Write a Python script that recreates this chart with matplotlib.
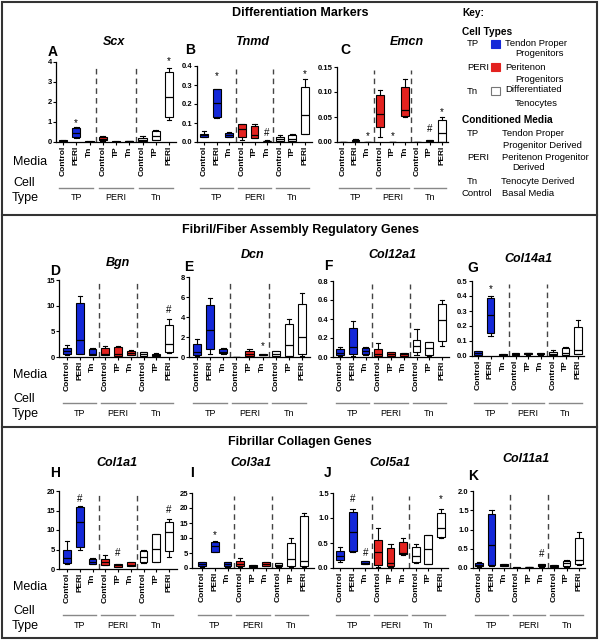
import numpy as np
import matplotlib.pyplot as plt
from matplotlib.patches import Rectangle
from matplotlib.lines import Line2D
from matplotlib import transforms

plt.rcParams['font.family'] = ['Liberation Sans', 'DejaVu Sans']

# groups on the x axis of every panel
media_labels = ["Control", "PERI", "Tn", "Control", "TP", "Tn", "Control", "TP", "PERI"]
cell_types = ["TP", "PERI", "Tn"]

# rows: whisker low, Q1, median, Q3, whisker high (9 groups each)
scx = np.array([
    [0.02, 0.22, 0.00, 0.05, 0.00, 0.01, 0.02, 0.08, 1.10],
    [0.03, 0.25, 0.01, 0.08, 0.01, 0.02, 0.05, 0.10, 1.23],
    [0.06, 0.45, 0.02, 0.15, 0.02, 0.04, 0.12, 0.30, 2.23],
    [0.10, 0.70, 0.03, 0.25, 0.03, 0.06, 0.20, 0.55, 3.50],
    [0.12, 0.75, 0.04, 0.32, 0.04, 0.07, 0.28, 0.62, 3.70]])
tnmd = np.array([
    [0.025, 0.125, 0.024, 0.012, 0.020, 0.002, 0.004, 0.004, 0.040],
    [0.028, 0.129, 0.026, 0.026, 0.023, 0.003, 0.005, 0.005, 0.044],
    [0.035, 0.203, 0.038, 0.070, 0.035, 0.005, 0.015, 0.018, 0.140],
    [0.044, 0.277, 0.048, 0.093, 0.083, 0.007, 0.026, 0.035, 0.290],
    [0.056, 0.277, 0.052, 0.097, 0.097, 0.008, 0.035, 0.040, 0.330]])
emcn = np.array([
    [0.0, 0.002, 0.0, 0.011, 0.0, 0.050, 0.0, 0.001, 0.000],
    [0.0003, 0.003, 0.0001, 0.030, 0.0001, 0.052, 0.0002, 0.002, 0.001],
    [0.0005, 0.004, 0.0002, 0.057, 0.0002, 0.064, 0.0004, 0.003, 0.018],
    [0.0008, 0.005, 0.0003, 0.094, 0.0003, 0.110, 0.0006, 0.004, 0.045],
    [0.001, 0.0055, 0.0004, 0.104, 0.0004, 0.126, 0.0008, 0.0045, 0.050]])
bgn = np.array([
    [0.45, 0.50, 0.30, 0.30, 0.20, 0.30, 0.10, 0.10, 0.7],
    [0.65, 0.65, 0.40, 0.45, 0.26, 0.40, 0.15, 0.15, 0.9],
    [1.10, 3.36, 0.60, 0.65, 0.65, 0.80, 0.50, 0.35, 2.6],
    [1.75, 10.5, 1.55, 1.75, 1.87, 1.23, 0.90, 0.60, 6.3],
    [2.40, 11.9, 1.75, 2.20, 2.20, 1.40, 1.00, 0.70, 7.4]])
dcn = np.array([
    [0.15, 0.33, 0.35, 0.00, 0.05, 0.18, 0.10, 0.10, 0.1],
    [0.23, 0.80, 0.40, 0.01, 0.07, 0.20, 0.13, 0.13, 0.3],
    [0.47, 2.73, 0.55, 0.02, 0.30, 0.25, 0.35, 1.17, 2.0],
    [1.33, 5.23, 0.80, 0.03, 0.63, 0.30, 0.57, 3.33, 5.3],
    [1.83, 5.90, 0.90, 0.04, 0.80, 0.32, 0.60, 3.83, 6.4]])
col12a1 = np.array([
    [0.010, 0.014, 0.025, 0.005, 0.008, 0.008, 0.025, 0.010, 0.115],
    [0.018, 0.035, 0.028, 0.007, 0.010, 0.010, 0.053, 0.018, 0.170],
    [0.042, 0.110, 0.063, 0.028, 0.030, 0.030, 0.120, 0.100, 0.390],
    [0.080, 0.310, 0.100, 0.080, 0.053, 0.042, 0.180, 0.158, 0.555],
    [0.105, 0.375, 0.105, 0.147, 0.055, 0.045, 0.300, 0.160, 0.600]])
col14a1 = np.array([
    [0.003, 0.135, 0.005, 0.006, 0.008, 0.008, 0.004, 0.004, 0.010],
    [0.004, 0.153, 0.006, 0.008, 0.010, 0.010, 0.005, 0.005, 0.015],
    [0.020, 0.275, 0.008, 0.014, 0.017, 0.015, 0.015, 0.020, 0.038],
    [0.033, 0.389, 0.010, 0.020, 0.021, 0.020, 0.027, 0.055, 0.190],
    [0.035, 0.400, 0.011, 0.022, 0.023, 0.021, 0.042, 0.060, 0.238]])
col1a1 = np.array([
    [1.35, 4.90, 1.30, 0.90, 0.45, 0.70, 1.5, 1.8, 3.2],
    [1.50, 5.76, 1.35, 1.00, 0.50, 0.76, 1.8, 1.8, 4.5],
    [2.80, 11.95, 1.70, 1.70, 0.93, 0.95, 3.0, 5.2, 9.6],
    [4.75, 15.8, 2.60, 2.54, 1.35, 1.70, 4.5, 9.0, 12.0],
    [7.20, 16.1, 2.90, 3.60, 1.40, 1.80, 4.8, 9.0, 12.8]])
col3a1 = np.array([
    [0.50, 5.3, 0.50, 0.30, 0.2, 0.7, 0.50, 0.50, 0.3],
    [0.55, 5.5, 0.55, 0.55, 0.2, 0.8, 0.55, 0.77, 0.8],
    [1.20, 7.2, 1.20, 1.30, 0.6, 1.3, 1.00, 3.00, 2.5],
    [1.90, 8.8, 1.90, 2.50, 1.0, 1.9, 1.65, 8.50, 17.3],
    [2.00, 9.0, 1.90, 3.50, 1.0, 2.0, 1.70, 10.1, 18.2]])
col5a1 = np.array([
    [0.120, 0.33, 0.085, 0.020, 0.020, 0.270, 0.100, 0.080, 0.60],
    [0.167, 0.35, 0.087, 0.053, 0.033, 0.287, 0.113, 0.080, 0.62],
    [0.247, 0.73, 0.110, 0.320, 0.100, 0.310, 0.233, 0.380, 0.80],
    [0.350, 1.13, 0.147, 0.570, 0.400, 0.520, 0.430, 0.667, 1.10],
    [0.430, 1.18, 0.150, 0.800, 0.490, 0.600, 0.480, 0.667, 1.18]])
col11a1 = np.array([
    [0.03, 0.05, 0.05, 0.005, 0.010, 0.03, 0.015, 0.03, 0.07],
    [0.04, 0.07, 0.06, 0.007, 0.015, 0.04, 0.020, 0.04, 0.10],
    [0.08, 0.60, 0.08, 0.010, 0.020, 0.07, 0.050, 0.12, 0.21],
    [0.13, 1.40, 0.10, 0.013, 0.025, 0.10, 0.070, 0.19, 0.77],
    [0.15, 1.50, 0.10, 0.015, 0.030, 0.11, 0.080, 0.20, 0.93]])

# significance marks: (group index, symbol, height)
scx_marks = [(1, '*', 0.95), (8, '*', 4.05)]
tnmd_marks = [(1, '*', 0.347), (5, '#', 0.048), (8, '*', 0.358)]
emcn_marks = [(2, '*', 0.011), (4, '*', 0.011), (7, '#', 0.027), (8, '*', 0.06)]
bgn_marks = [(8, '#', 9.2)]
dcn_marks = [(5, '*', 1.13)]
col12a1_marks = []
col14a1_marks = [(1, '*', 0.447)]
col1a1_marks = [(1, '#', 17.9), (4, '#', 4.07), (8, '#', 15.1)]
col3a1_marks = [(1, '*', 11.0)]
col5a1_marks = [(1, '#', 1.37), (2, '#', 0.3), (8, '*', 1.37)]
col11a1_marks = [(5, '#', 0.37)]

colors = ['#1428d8', '#e3221f', 'white']

W, H = 600, 642
def fx(x):
    return x / W
def fy(y):
    return 1 - y / H

fig = plt.figure(figsize=(6, 6.42), dpi=100)

# outer frame and section dividers
fig.add_artist(Rectangle((fx(2), fy(638)), fx(595), 636 / H, transform=fig.transFigure,
                         fill=False, ec='#333333', lw=1.5))
for yy in [215, 427]:
    fig.add_artist(Line2D([fx(2), fx(597)], [fy(yy), fy(yy)], transform=fig.transFigure,
                          color='#333333', lw=1.5))

# section headings
fig.text(fx(300), fy(13), "Differentiation Markers", ha='center', va='center', fontsize=9, weight='bold')
fig.text(fx(300), fy(230), "Fibril/Fiber Assembly Regulatory Genes", ha='center', va='center', fontsize=9, weight='bold')
fig.text(fx(300), fy(442), "Fibrillar Collagen Genes", ha='center', va='center', fontsize=9, weight='bold')

# row texts per section: media y, cell y, type y, line y
sections = [(162, 183, 198, 188), (375, 399, 414, 403), (587, 611, 626, 615)]
for media_y, cell_y, type_y, line_y in sections:
    fig.text(fx(13), fy(media_y), "Media", ha='left', va='center', fontsize=9)
    fig.text(fx(13), fy(cell_y), "Cell", ha='left', va='center', fontsize=9)
    fig.text(fx(12), fy(type_y), "Type", ha='left', va='center', fontsize=9)


def draw_panel(data, marks, letter, gene, xa, x0, x8, y0, yt, ymax, yticks, fmt,
               gene_xy, letter_xy, sec):
    sp = (x8 - x0) / 8
    pad = (x0 - xa) / sp
    right = x8 + (x0 - xa)
    ax = fig.add_axes([fx(xa), fy(y0), fx(right - xa), (y0 - yt) / H])
    stats = [dict(whislo=data[0][i], q1=data[1][i], med=data[2][i], q3=data[3][i],
                  whishi=data[4][i], fliers=[]) for i in range(9)]
    bp = ax.bxp(stats, positions=range(9), widths=0.62, patch_artist=True, showfliers=False,
                capwidths=0.35,
                boxprops=dict(lw=0.8, edgecolor='black'),
                medianprops=dict(color='black', lw=0.9),
                whiskerprops=dict(lw=0.8), capprops=dict(lw=0.8))
    for i, b in enumerate(bp['boxes']):
        b.set_facecolor(colors[i // 3])
    ax.vlines([2.5, 5.5], 0, ymax * 0.96, linestyles=(0, (4, 3)), colors='#444444', lw=1)
    ax.set_xlim(-pad, 8 + pad)
    ax.set_ylim(0, ymax)
    ax.set_xticks(range(9))
    ax.set_xticklabels(media_labels, rotation=90, fontsize=6, fontweight='bold')
    ax.set_yticks(yticks)
    ax.set_yticklabels([fmt.format(v) for v in yticks], fontsize=5.5, fontweight='bold')
    ax.tick_params(length=2, width=0.8, pad=1)
    for s in ['top', 'right']:
        ax.spines[s].set_visible(False)
    for s in ['left', 'bottom']:
        ax.spines[s].set_linewidth(0.9)
    for i, sym, y in marks:
        ax.text(i, y, sym, ha='center', va='center', fontsize=7, clip_on=False)
    # cell type brackets below the media labels
    media_y, cell_y, type_y, line_y = sections[sec]
    trans = transforms.blended_transform_factory(ax.transData, fig.transFigure)
    for g in range(3):
        ax.plot([3 * g - 0.3, 3 * g + 2.3], [fy(line_y)] * 2, transform=trans,
                color='#888888', lw=1, clip_on=False)
        ax.text(3 * g + 1, fy(type_y), cell_types[g], transform=trans, ha='center',
                va='center', fontsize=6.5)
    fig.text(fx(gene_xy[0]), fy(gene_xy[1]), gene, ha='center', va='center', fontsize=9,
             weight='bold', style='italic')
    fig.text(fx(letter_xy[0]), fy(letter_xy[1]), letter, ha='center', va='center',
             fontsize=10, weight='bold')
    return ax


draw_panel(scx, scx_marks, 'A', 'Scx', 56, 63, 169, 142, 62, 4, [0, 1, 2, 3, 4], '{:.0f}',
           (114, 42), (53, 52), 0)
draw_panel(tnmd, tnmd_marks, 'B', 'Tnmd', 197, 204, 305, 142, 66, 0.4,
           [0, 0.1, 0.2, 0.3, 0.4], '{:.1f}', (252, 42), (190, 50), 0)
draw_panel(emcn, emcn_marks, 'C', 'Emcn', 337, 343, 442, 142, 67, 0.15,
           [0, 0.05, 0.10, 0.15], '{:.2f}', (407, 42), (345, 50), 0)

draw_panel(bgn, bgn_marks, 'D', 'Bgn', 59, 67, 169, 357, 280, 15, [0, 5, 10, 15], '{:.0f}',
           (118, 263), (55, 271), 1)
draw_panel(dcn, dcn_marks, 'E', 'Dcn', 189, 197, 302, 357, 277, 8, [0, 2, 4, 6, 8], '{:.0f}',
           (253, 255), (189, 267), 1)
draw_panel(col12a1, col12a1_marks, 'F', 'Col12a1', 333, 340, 442, 357, 281, 0.8,
           [0, 0.2, 0.4, 0.6, 0.8], '{:.1f}', (392, 255), (328, 266), 1)
draw_panel(col14a1, col14a1_marks, 'G', 'Col14a1', 472, 478, 578, 356, 281, 0.5,
           [0, 0.1, 0.2, 0.3, 0.4, 0.5], '{:.1f}', (528, 259), (473, 268), 1)

draw_panel(col1a1, col1a1_marks, 'H', 'Col1a1', 59, 67, 169, 569, 491, 20, [0, 5, 10, 15, 20],
           '{:.0f}', (117, 463), (55, 473), 2)
draw_panel(col3a1, col3a1_marks, 'I', 'Col3a1', 192, 202, 304, 568, 493, 25,
           [0, 5, 10, 15, 20, 25], '{:.0f}', (251, 463), (192, 473), 2)
draw_panel(col5a1, col5a1_marks, 'J', 'Col5a1', 333, 340, 441, 568, 493, 1.5,
           [0, 0.5, 1.0, 1.5], '{:.1f}', (390, 463), (328, 473), 2)
draw_panel(col11a1, col11a1_marks, 'K', 'Col11a1', 473, 479, 579, 568, 491, 2.0,
           [0, 0.5, 1.0, 1.5, 2.0], '{:.1f}', (526, 459), (473, 476), 2)

# key
key_bold = [("Key:", 462, 13), ("Cell Types", 462, 32), ("Conditioned Media", 462, 120)]
for t, x, y in key_bold:
    fig.text(fx(x), fy(y), t, ha='left', va='center', fontsize=7.3, weight='bold')
key_plain = [("TP", 467, 43), ("Tendon Proper", 505, 43), ("Progenitors", 515, 54),
             ("PERI", 467, 67), ("Peritenon", 505, 67), ("Progenitors", 515, 79),
             ("Tn", 467, 91), ("Differentiated", 505, 90), ("Tenocytes", 515, 103),
             ("TP", 467, 133), ("Tendon Proper", 502, 133), ("Progenitor Derived", 503, 145),
             ("PERI", 467, 157), ("Peritenon Progenitor", 502, 157), ("Derived", 512, 168),
             ("Tn", 467, 181), ("Tenocyte Derived", 501, 181),
             ("Control", 462, 193), ("Basal Media", 502, 193)]
for t, x, y in key_plain:
    fig.text(fx(x), fy(y), t, ha='left', va='center', fontsize=6.8)
for c, y in zip(colors, [40, 63, 87]):
    fig.add_artist(Rectangle((fx(491), fy(y + 8)), fx(9), 8 / H, transform=fig.transFigure,
                             fc=c, ec='#777777' if c == 'white' else c, lw=0.8))

plt.savefig('out.png', dpi=100)
